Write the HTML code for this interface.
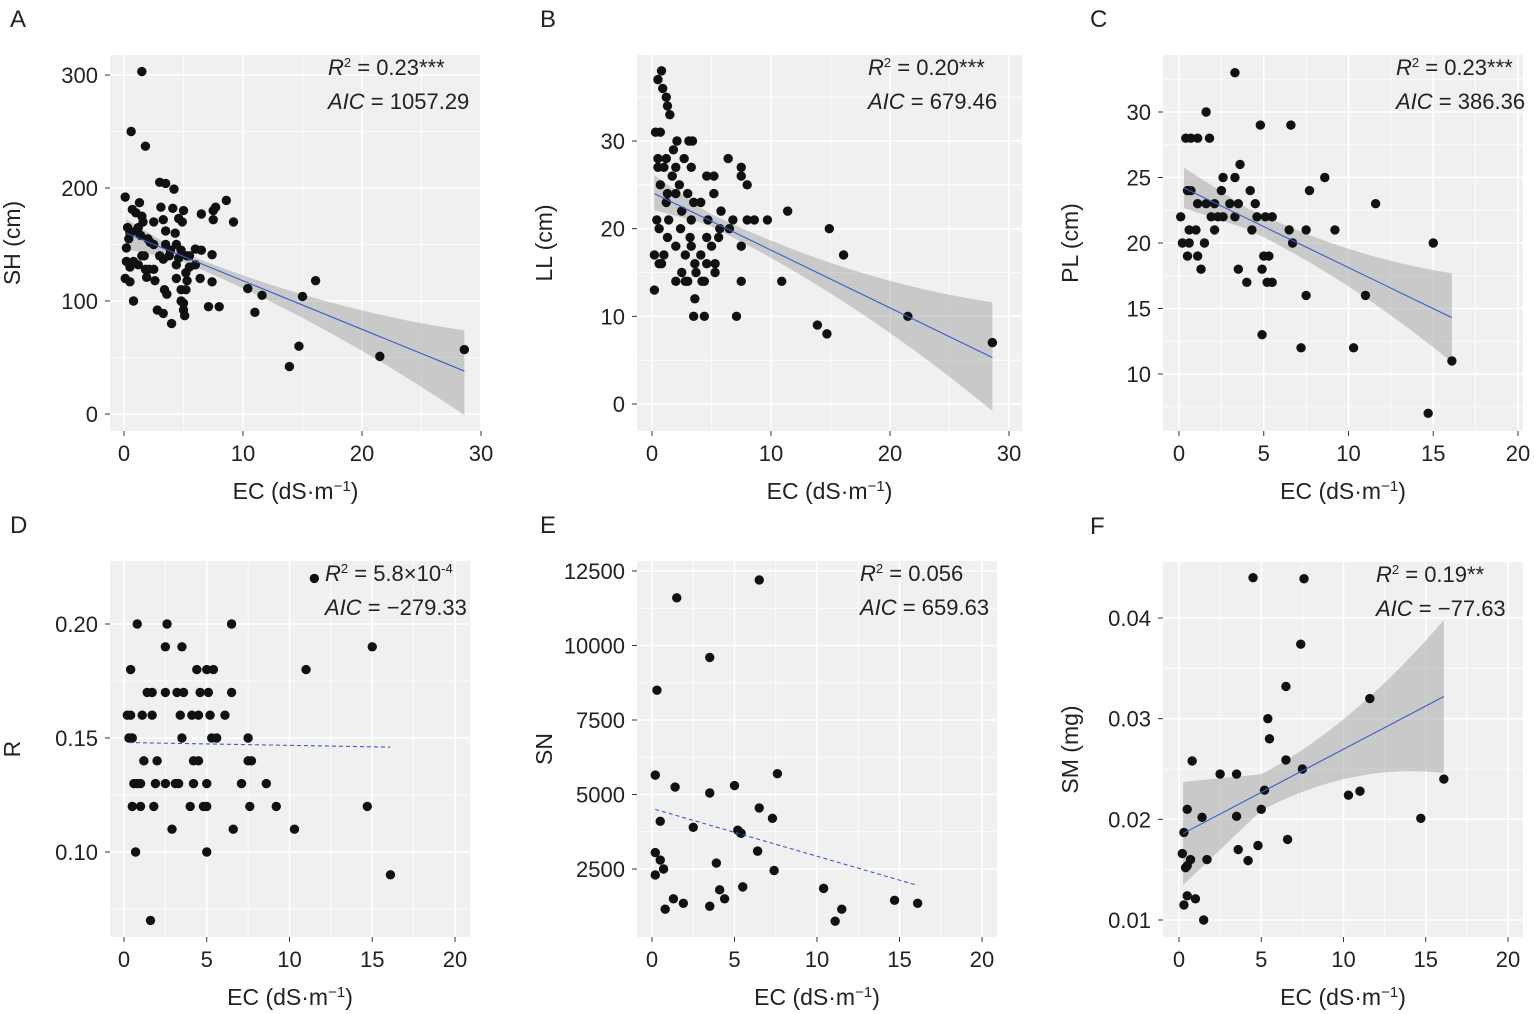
<!DOCTYPE html><html><head><meta charset="utf-8"><style>body{margin:0;background:#fff}svg{display:block}text{font-family:"Liberation Sans",sans-serif;fill:#222}</style></head><body>
<svg id="s" width="1535" height="1014" xmlns="http://www.w3.org/2000/svg"></svg>
<script>
const S=document.getElementById('s');let h='';
function P(c){
 const [x0,y0,x1,y1]=c.plot;
 const X=v=>c.xm[1]+(v-c.xm[0])*(c.xm[3]-c.xm[1])/(c.xm[2]-c.xm[0]);
 const Y=v=>c.ym[1]+(v-c.ym[0])*(c.ym[3]-c.ym[1])/(c.ym[2]-c.ym[0]);
 h+=`<rect x="${x0}" y="${y0}" width="${x1-x0}" height="${y1-y0}" fill="#eff0ef"/>`;
 c.xmin.forEach(v=>h+=`<line x1="${X(v)}" x2="${X(v)}" y1="${y0}" y2="${y1}" stroke="#fff" stroke-width="0.8"/>`);
 c.ymin.forEach(v=>h+=`<line y1="${Y(v)}" y2="${Y(v)}" x1="${x0}" x2="${x1}" stroke="#fff" stroke-width="0.8"/>`);
 c.xt.forEach(v=>{h+=`<line x1="${X(v)}" x2="${X(v)}" y1="${y0}" y2="${y1}" stroke="#fff" stroke-width="1.6"/><line x1="${X(v)}" x2="${X(v)}" y1="${y1}" y2="${y1+5}" stroke="#333"/><text x="${X(v)}" y="${y1+30}" font-size="22" text-anchor="middle">${v}</text>`});
 c.yt.forEach((v,i)=>{h+=`<line y1="${Y(v)}" y2="${Y(v)}" x1="${x0}" x2="${x1}" stroke="#fff" stroke-width="1.6"/><line y1="${Y(v)}" y2="${Y(v)}" x1="${x0-5}" x2="${x0}" stroke="#333"/><text x="${x0-12}" y="${Y(v)+8}" font-size="22" text-anchor="end">${c.yl?c.yl[i]:v}</text>`});
 if(c.ci){let pts=[];const n=30;for(let i=0;i<=n;i++){const t=c.ci[0]+(c.ci[1]-c.ci[0])*i/n;pts.push([t,c.ciU(t)])}
  for(let i=n;i>=0;i--){const t=c.ci[0]+(c.ci[1]-c.ci[0])*i/n;pts.push([t,c.ciL(t)])}
  h+=`<polygon points="${pts.map(p=>X(p[0])+','+Y(p[1])).join(' ')}" fill="#999" fill-opacity="0.45"/>`;}
 c.d.forEach(p=>h+=`<circle cx="${X(p[0])}" cy="${Y(p[1])}" r="4.7" fill="#111"/>`);
 const L=c.line;h+=`<line x1="${X(L[0])}" y1="${Y(L[1])}" x2="${X(L[2])}" y2="${Y(L[3])}" stroke="#3a5cc8" stroke-width="1.1" ${c.dash?'stroke-dasharray="4,3"':''}/>`;
 const cx=(x0+x1)/2,cy=(y0+y1)/2;
 h+=`<text x="${cx}" y="${y1+68}" font-size="23" text-anchor="middle">EC (dS·m<tspan font-size="15" dy="-8">−1</tspan><tspan dy="8">)</tspan></text>`;
 h+=`<text transform="translate(${c.yx},${cy}) rotate(-90)" font-size="23" text-anchor="middle">${c.yt_}</text>`;
 h+=`<text x="${c.ax}" y="${y0+20}" font-size="22"><tspan font-style="italic">R</tspan><tspan font-size="13" dy="-8">2</tspan><tspan dy="8"> = ${c.r2}</tspan></text><text x="${c.ax}" y="${y0+54}" font-size="22"><tspan font-style="italic">AIC</tspan> = ${c.aic}</text>`;
 h+=`<text x="${c.lx}" y="${y0-28}" font-size="24">${c.lab}</text>`;
}
const A=[[1.5,303],[0.6,250],[1.8,237],[0.1,192],[3,205],[3.5,204],[4.2,199],[1.3,187],[3.1,183],[4.1,182],[5,180],[0.7,181],[1,178],[1.5,175],[1.6,170],[2.5,170],[3.3,172],[4.6,173],[4.9,170],[6.5,177],[7.5,180],[7.7,183],[7.5,172],[8.6,189],[9.2,170],[3.5,162],[4.3,160],[0.3,165],[0.5,160],[1,162],[1.4,158],[0.2,147],[2,155],[2.5,150],[3.5,150],[4.4,150],[4.8,145],[5.3,140],[5.5,140],[6,146],[6.5,145],[7.4,141],[1.5,140],[1.7,140],[0.2,135],[0.5,130],[0.8,135],[1.2,132],[1.8,128],[2.1,128],[2.5,128],[3,140],[3.3,137],[3.8,140],[4.4,132],[5.2,125],[5.5,130],[6,132],[0.1,120],[0.5,117],[1.9,121],[2.6,118],[4.4,120],[5.3,118],[6.4,120],[7.4,117],[3.4,110],[3.6,106],[4.8,110],[5.2,110],[4.8,100],[5.0,98],[0.8,100],[2.8,92],[3.3,89],[5,92],[5.1,87],[7.1,95],[8,95],[4,80],[10.4,111],[11.6,105],[11,90],[15,104],[16.1,118],[14.7,60],[13.9,42],[21.5,51],[28.6,57],[0.4,155],[1.2,165],[2.2,152],[3.9,145],[4.6,138]];
const B=[[0.5,37],[0.8,38],[0.9,36],[1.2,35],[1.3,34],[0.3,31],[0.7,31],[1.5,33],[2.1,30],[3.1,30],[3.4,30],[1.8,29],[0.5,28],[1.2,28],[0.5,27],[1,27],[2,27],[2.7,28],[3.3,27],[6.4,28],[7.5,27],[0.7,25],[1.7,26],[2.3,25],[4.6,26],[5.2,26],[7.5,26],[1.3,24],[2,24],[3,24],[5.2,24],[8,25],[1.2,23],[2.5,22],[3.5,23],[4.1,23],[5.8,22],[8.6,21],[9.7,21],[11.4,22],[0.4,21],[1.4,21],[3.3,21],[4.7,21],[6.8,21],[8,21],[5.7,20],[6.5,20],[0.2,17],[0.6,16],[1,17],[1.3,19],[2,18],[2.4,20],[2.8,17],[3.3,18],[3.6,16],[4.1,17],[4.6,19],[5,18],[5.3,16],[2.5,15],[3,14],[3.7,15],[4.2,14],[4.6,16],[5.3,15],[7.5,18],[0.2,13],[0.8,16],[2,14],[2.8,14],[3.6,12],[4.4,14],[3.5,10],[4.4,10],[7.1,10],[7.5,14],[10.9,14],[13.9,9],[14.7,8],[14.9,20],[16.1,17],[21.5,10],[28.6,7],[5.6,19],[3.2,19],[0.6,20]];
const C=[[3.3,33],[1.1,28],[0.4,28],[0.7,28],[1.6,30],[1.8,28],[4.8,29],[6.6,29],[8.6,25],[0.5,24],[0.7,24],[2.6,25],[3.3,25],[3.6,26],[4.2,24],[7.7,24],[1.1,23],[1.6,23],[2.1,23],[2.5,24],[3,23],[3.5,23],[4.5,23],[11.6,23],[0.1,22],[1.9,22],[2.3,22],[2.6,22],[3.3,22],[4.3,21],[4.6,22],[5.1,22],[5.5,22],[6.5,21],[0.6,21],[1,21],[2.1,21],[0.2,20],[0.6,20],[1.5,20],[1.1,19],[5,19],[5.3,19],[0.5,19],[7.5,21],[9.2,21],[1.3,18],[3.5,18],[4,17],[4.9,18],[5.2,17],[5.5,17],[6.7,20],[7.5,16],[11,16],[15,20],[4.9,13],[7.2,12],[10.3,12],[14.7,7],[16.1,11]];
const D=[[0.4,.18],[0.2,.16],[0.4,.16],[0.8,.20],[0.3,.15],[0.5,.15],[1.1,.16],[1.4,.17],[1.7,.17],[1.7,.16],[2.6,.20],[2.5,.19],[2.5,.17],[3.5,.19],[3.2,.17],[3.6,.17],[4.4,.18],[4.5,.16],[5,.18],[5.4,.18],[4.6,.17],[5.1,.17],[6.5,.20],[6.5,.17],[4.1,.16],[3.4,.16],[5.2,.16],[6.1,.16],[3.5,.15],[5.3,.15],[5.6,.15],[7.5,.15],[1.2,.14],[2,.14],[4.2,.14],[4.5,.14],[7.5,.14],[7.7,.14],[0.6,.13],[0.8,.13],[1,.13],[1.9,.13],[2.5,.13],[3.1,.13],[3.3,.13],[4.2,.13],[5,.13],[7.1,.13],[8.6,.13],[0.5,.12],[1,.12],[1.8,.12],[4,.12],[4.8,.12],[5,.12],[7.6,.12],[9.2,.12],[14.7,.12],[2.9,.11],[6.6,.11],[10.3,.11],[0.7,.10],[5,.10],[1.6,.07],[11,.18],[15,.19],[16.1,.09],[11.5,.22]];
const E=[[6.5,12200],[1.5,11600],[3.5,9600],[0.3,8500],[0.2,5650],[1.4,5250],[5,5300],[7.6,5700],[3.5,5050],[0.5,4100],[6.5,4550],[7.3,4200],[2.5,3900],[5.2,3800],[5.4,3700],[6.4,3100],[0.2,3050],[0.5,2800],[0.7,2500],[0.2,2300],[3.9,2700],[7.4,2450],[5.5,1900],[4.1,1800],[10.4,1850],[14.7,1450],[16.1,1350],[1.3,1500],[1.9,1350],[4.4,1500],[3.5,1250],[0.8,1150],[11.5,1150],[11.1,750]];
const F=[[4.5,.044],[7.6,.0439],[7.4,.0374],[6.5,.0332],[11.6,.032],[5.4,.030],[5.5,.028],[0.8,.0258],[6.5,.0259],[7.5,.025],[2.5,.0245],[3.5,.0245],[16.1,.024],[5.2,.0229],[11,.0228],[10.3,.0224],[0.5,.021],[5,.021],[1.4,.0202],[3.5,.0203],[14.7,.0201],[0.3,.0187],[6.6,.018],[4.8,.0174],[3.6,.017],[0.2,.0166],[0.7,.016],[1.7,.016],[4.2,.0159],[0.4,.0152],[0.5,.0154],[0.5,.0124],[1,.0121],[0.3,.0115],[1.5,.010]];
P({plot:[110,55,481,431],xm:[0,124,10,243],ym:[0,414,100,301],xt:[0,10,20,30],xmin:[5,15,25],yt:[0,100,200,300],ymin:[50,150,250],d:A,line:[0.2,160,28.6,38],
 ci:[0.2,28.6],ciU:t=>{const s=(t-4.5)/24.1;return 160-4.3*t+ (t<4.5?(4.5-t)*2.2+4: 4+ 33*s*s)},ciL:t=>{const s=(t-4.5)/24.1;return 160-4.3*t-(t<4.5?(4.5-t)*2.2+4: 4+ 34*s*s)},
 yx:20,yt_:'SH (cm)',ax:328,r2:'0.23***',aic:'1057.29',lx:10,lab:'A'});
P({plot:[637,55,1022,431],xm:[0,652,10,771],ym:[0,404,30,141],xt:[0,10,20,30],xmin:[5,15,25],yt:[0,10,20,30],ymin:[5,15,25,35],d:B,line:[0.2,24,28.6,5.3],
 ci:[0.2,28.6],ciU:t=>{const s=(t-4.5)/24.1;return 24.1-0.658*(t-0.2)+(t<4.5?(4.5-t)*0.3+0.7:0.7+5.5*s*s)},ciL:t=>{const s=(t-4.5)/24.1;return 24.1-0.658*(t-0.2)-(t<4.5?(4.5-t)*0.3+0.7:0.7+5.5*s*s)},
 yx:552,yt_:'LL (cm)',ax:868,r2:'0.20***',aic:'679.46',lx:540,lab:'B'});
P({plot:[1163,55,1523,431],xm:[0,1179,20,1518],ym:[10,374,30,112],xt:[0,5,10,15,20],xmin:[2.5,7.5,12.5,17.5],yt:[10,15,20,25,30],ymin:[7.5,12.5,17.5,22.5,27.5,32.5],d:C,line:[0.3,24.2,16.1,14.3],
 ci:[0.3,16.1],ciU:t=>{const s=(t-4)/12.1;return 24.39-0.627*t+(t<4?(4-t)*0.2+0.8:0.8+2.6*s*s)},ciL:t=>{const s=(t-4)/12.1;return 24.39-0.627*t-(t<4?(4-t)*0.2+0.8:0.8+2.6*s*s)},
 yx:1078,yt_:'PL (cm)',ax:1396,r2:'0.23***',aic:'386.36',lx:1090,lab:'C'});
P({plot:[110,561,470,937],xm:[0,124,20,455],ym:[0.10,852,0.20,624],xt:[0,5,10,15,20],xmin:[2.5,7.5,12.5,17.5],yt:[0.10,0.15,0.20],yl:['0.10','0.15','0.20'],ymin:[0.075,0.125,0.175],d:D,line:[0.3,0.148,16.1,0.146],dash:1,
 yx:20,yt_:'R',ax:325,r2:'5.8×10<tspan font-size="13" dy="-8">-4</tspan><tspan dy="8"></tspan>',aic:'−279.33',lx:10,lab:'D'});
P({plot:[637,561,997,937],xm:[0,652,20,982],ym:[2500,869,12500,571],xt:[0,5,10,15,20],xmin:[2.5,7.5,12.5,17.5],yt:[2500,5000,7500,10000,12500],ymin:[3750,6250,8750,11250],d:E,line:[0.2,4500,16.1,1950],dash:1,
 yx:552,yt_:'SN',ax:860,r2:'0.056',aic:'659.63',lx:540,lab:'E'});
P({plot:[1163,562,1523,937],xm:[0,1179,20,1508],ym:[0.01,920,0.04,618],xt:[0,5,10,15,20],xmin:[2.5,7.5,12.5,17.5],yt:[0.01,0.02,0.03,0.04],yl:['0.01','0.02','0.03','0.04'],ymin:[0.015,0.025,0.035],d:F,line:[0.25,0.0186,16.1,0.0322],
 ci:[0.25,16.1],ciU:t=>{const s=(t-5)/11.1;const m=0.0186+0.000858*(t-0.25);return m+(t<5?(5-t)*0.0007+0.0018:0.0018+0.0058*s*s)},ciL:t=>{const s=(t-5)/11.1;const m=0.0186+0.000858*(t-0.25);return m-(t<5?(5-t)*0.0007+0.0018:0.0018+0.0058*s*s)},
 yx:1078,yt_:'SM (mg)',ax:1376,r2:'0.19**',aic:'−77.63',lx:1090,lab:'F'});
S.innerHTML=h;
</script></body></html>
